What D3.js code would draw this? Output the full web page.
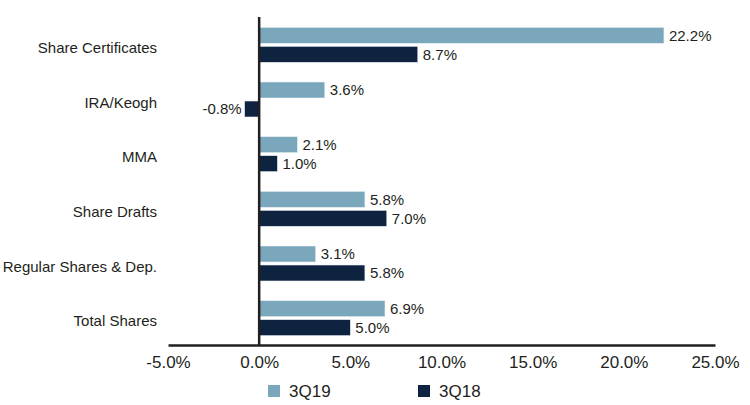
<!DOCTYPE html>
<html>
<head>
<meta charset="utf-8">
<script src="https://cdn.jsdelivr.net/npm/d3@7"></script>
<style>
  body { margin: 0; background: #fff; }
  text { font-family: "Liberation Sans", Arial, sans-serif; fill: #231f20; }
</style>
</head>
<body>
<div id="chart"></div>
<script>
// data
var categories = ["Share Certificates", "IRA/Keogh", "MMA", "Share Drafts", "Regular Shares & Dep.", "Total Shares"];
var seriesNames = ["3Q19", "3Q18"];
var values3Q19 = [22.2, 3.6, 2.1, 5.8, 3.1, 6.9];
var values3Q18 = [8.7, -0.8, 1.0, 7.0, 5.8, 5.0];
var xTicks = [-5, 0, 5, 10, 15, 20, 25];
var colors = ["#7ba7bc", "#0e2340"];

var svgWidth = 750;
var svgHeight = 405;

var svg = d3.select("#chart")
  .append("svg")
  .attr("width", svgWidth)
  .attr("height", svgHeight);

// scales
var x = d3.scaleLinear()
  .domain([-5, 25])
  .range([168, 715]);

var y = d3.scaleBand()
  .domain(categories)
  .range([17, 345])
  .paddingInner(0)
  .paddingOuter(0);

var barH = 16, gap = 3;

var rows = categories.map(function(c, i) {
  return { cat: c, vals: [values3Q19[i], values3Q18[i]] };
});

// bars
var groups = svg.selectAll(".cat")
  .data(rows)
  .enter()
  .append("g")
  .attr("transform", d => `translate(0, ${y(d.cat) + y.bandwidth() / 2})`);

groups.selectAll("rect")
  .data(d => d.vals)
  .enter()
  .append("rect")
  .attr("x", d => x(Math.min(0, d)))
  .attr("y", (d, i) => i === 0 ? -barH - gap / 2 + 0.5 : gap / 2 + 0.5)
  .attr("width", d => Math.abs(x(d) - x(0)))
  .attr("height", barH)
  .attr("fill", (d, i) => colors[i])
  .attr("stroke", "#e6eef2")
  .attr("stroke-width", 0.6);

// value labels
groups.selectAll(".val")
  .data(d => d.vals)
  .enter()
  .append("text")
  .attr("x", d => d < 0 ? x(d) - 3 : x(d) + 5)
  .attr("y", (d, i) => i === 0 ? -barH / 2 - gap / 2 + 0.5 : barH / 2 + gap / 2 + 0.5)
  .attr("dy", "0.35em")
  .attr("text-anchor", d => d < 0 ? "end" : "start")
  .attr("font-size", "15px")
  .text(d => d.toFixed(1) + "%");

// category labels
svg.selectAll(".catLabel")
  .data(categories)
  .enter()
  .append("text")
  .attr("x", 157)
  .attr("y", d => y(d) + y.bandwidth() / 2 + 3.5)
  .attr("dy", "0.35em")
  .attr("text-anchor", "end")
  .attr("font-size", "15px")
  .text(d => d);

// x axis
var bottomAxis = d3.axisBottom(x)
  .tickValues(xTicks)
  .tickSize(0)
  .tickPadding(11)
  .tickFormat(d => d.toFixed(1) + "%");

var xAxis = svg.append("g")
  .attr("transform", "translate(0,345)")
  .call(bottomAxis);
xAxis.select(".domain").attr("stroke", "#231f20").attr("stroke-width", 2.5);
xAxis.selectAll("text")
  .attr("font-family", "Liberation Sans, Arial, sans-serif")
  .attr("font-size", "17px")
  .attr("fill", "#231f20");

// vertical zero line
svg.append("line")
  .attr("x1", x(0)).attr("x2", x(0))
  .attr("y1", 17).attr("y2", 345)
  .attr("stroke", "#231f20")
  .attr("stroke-width", 2.5);

// legend
var legend = svg.selectAll(".legend")
  .data(seriesNames)
  .enter()
  .append("g")
  .attr("transform", (d, i) => `translate(${268 + i * 150}, 385)`);

legend.append("rect")
  .attr("width", 12)
  .attr("height", 12)
  .attr("fill", (d, i) => colors[i]);

legend.append("text")
  .attr("x", 21)
  .attr("y", 6)
  .attr("dy", "0.36em")
  .attr("font-size", "17px")
  .text(d => d);
</script>
</body>
</html>
